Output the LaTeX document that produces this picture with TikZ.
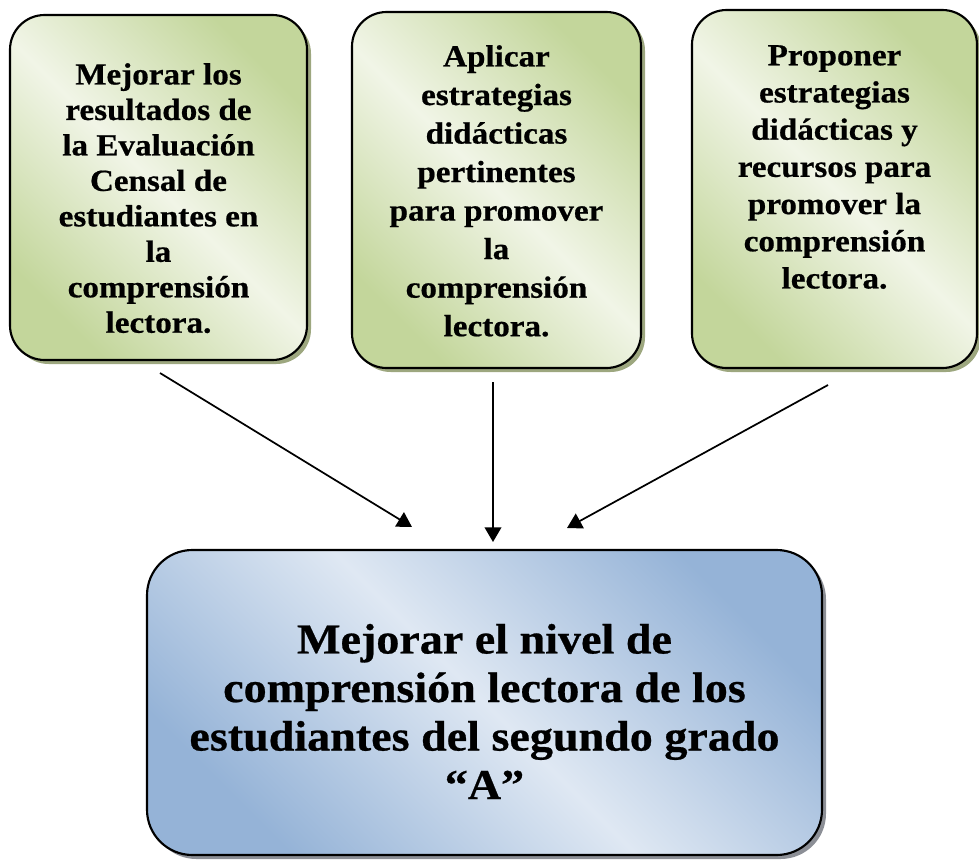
\documentclass[tikz,border=0pt]{standalone}
\usepackage{fontspec}
\setmainfont{Liberation Serif}[FakeStretch=1.08, BoldFeatures={FakeBold=0.6}]
\usepackage{xcolor}
\usetikzlibrary{positioning}
\usetikzlibrary{shadows}
\usetikzlibrary{arrows.meta}

\definecolor{verdeosc}{HTML}{C3D69B}
\definecolor{verdeclaro}{HTML}{F1F5E7}
\definecolor{sombraverde}{HTML}{9DA77F}
\definecolor{azulosc}{HTML}{95B3D7}
\definecolor{azulclaro}{HTML}{DFE8F3}
\definecolor{sombraazul}{HTML}{8C8F96}

\tikzset{
    accion/.style={draw, line width=1.6pt, rounded corners=26pt, inner sep=0pt,
        top color=verdeosc, bottom color=verdeosc, middle color=verdeclaro, shading angle=-45,
        drop shadow={shadow xshift=3pt, shadow yshift=-3pt, fill=sombraverde, opacity=1}},
    meta/.style={draw, line width=1.6pt, rounded corners=34pt, inner sep=0pt,
        top color=azulosc, bottom color=azulosc, middle color=azulclaro, shading angle=-45,
        drop shadow={shadow xshift=3pt, shadow yshift=-3pt, fill=sombraazul, opacity=1}},
    texto/.style={align=center, inner sep=0pt, font=\bfseries\fontsize{23}{#1}\selectfont},
    textogrande/.style={align=center, inner sep=0pt, font=\bfseries\fontsize{32}{36.4}\selectfont},
}

\begin{document}
\begin{tikzpicture}[x=0.75pt, y=-0.75pt]
    \useasboundingbox (0,0) rectangle (979,864);
    % cajas de acciones
    \node [accion, minimum width=222.75pt, minimum height=258.75pt] (mejorar) at (158.5,187.5) {};
    \node [accion, minimum width=216.75pt, minimum height=267pt] (aplicar) at (496.5,190) {};
    \node [accion, minimum width=213.75pt, minimum height=268.5pt] (proponer) at (834.5,189) {};
    % caja del objetivo
    \node [meta, minimum width=506.25pt, minimum height=228.75pt] (objetivo) at (484.5,702.5) {};

    \node [texto=26.6pt, below=36.75pt of mejorar.north] (tmejorar) {Mejorar los\\resultados de\\la Evaluación\\Censal de\\estudiantes en\\la\\comprensión\\lectora.};
    \node [texto=28.9pt, below=25.5pt of aplicar.north] (taplicar) {Aplicar\\estrategias\\didácticas\\pertinentes\\para promover\\la\\comprensión\\lectora.};
    \node [texto=27.9pt, below=27pt of proponer.north] (tproponer) {Proponer\\estrategias\\didácticas y\\recursos para\\promover la\\comprensión\\lectora.};
    \node [textogrande, below=56pt of objetivo.north] (tobjetivo) {Mejorar el nivel de\\comprensión lectora de los\\estudiantes del segundo grado\\“A”};

    % extremos libres de las flechas
    \coordinate (s1) at (160,373);
    \coordinate (s2) at (493,382);
    \coordinate (s3) at (828,385);
    \coordinate (e1) at (412,527);
    \coordinate (e2) at (493,542);
    \coordinate (e3) at (567,528);

    \path[-{Triangle[length=11pt,width=12.5pt]}, line width=1.3pt]
        (s1) edge (e1)
        (s2) edge (e2)
        (s3) edge (e3)
    ;
\end{tikzpicture}
\end{document}
